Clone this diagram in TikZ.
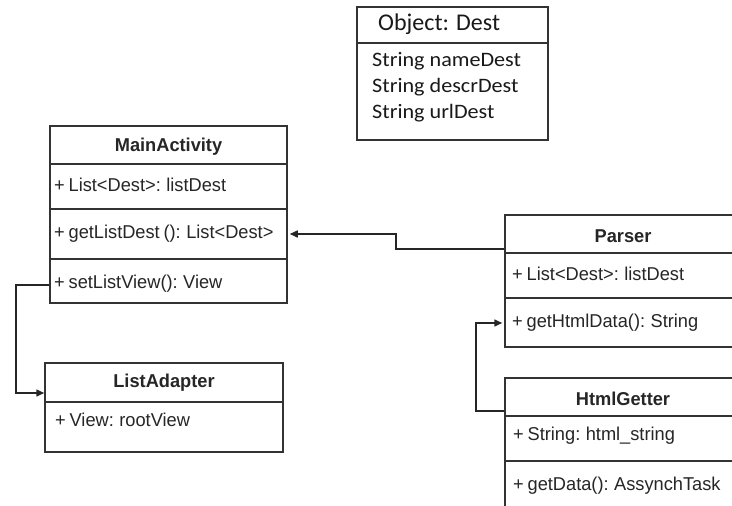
\documentclass[tikz,border=0pt]{standalone}
\usepackage{fontspec}
\newfontfamily\umlfont[FakeStretch=0.98,WordSpace=0.75]{Liberation Sans}
\newfontfamily\calfont[FakeStretch=1.08]{Carlito}
\newfontfamily\caltitle{Carlito}
\usetikzlibrary{arrows.meta}
\begin{document}
\begin{tikzpicture}[x=1pt,y=-1pt,
  box/.style={draw=black!80, line width=1.5pt, minimum width=#1, inner sep=0pt},
  sep/.style={draw=black!80, line width=1.5pt},
  row/.style={anchor=west, inner sep=0pt, font=\umlfont\fontsize{18.6}{21}\selectfont, text=black!85},
  ttl/.style={inner sep=0pt, font=\umlfont\bfseries\fontsize{18.6}{21}\selectfont, text=black!85},
  drow/.style={anchor=west, inner sep=0pt, font=\calfont\fontsize{20.5}{24}\selectfont, text=black!90},
  conn/.style={draw=black!85, line width=1.5pt},
  tip/.style={-{Triangle[length=8pt,width=7pt]}}
]
\useasboundingbox (0,0) rectangle (732,506);
\clip (0,0) rectangle (732,506);
\fill[white] (0,0) rectangle (732,506);

% Object: Dest
\node[box=191pt, minimum height=133pt] (dest) at (452.5,73.5) {};
\draw[sep] (dest.west |- 0,43) -- (dest.east |- 0,43);
\node[anchor=west, inner sep=0pt, font=\caltitle\fontsize{24}{28}\selectfont, text=black!90] (destT) at (378,24) {Object: Dest};
\node[drow] (d1) at (372,61) {String nameDest};
\node[drow] (d2) at (372,87) {String descrDest};
\node[drow] (d3) at (372,113) {String urlDest};

% MainActivity
\node[box=237pt, minimum height=177pt] (main) at (168.5,214.5) {};
\draw[sep] (main.west |- 0,164) -- (main.east |- 0,164);
\draw[sep] (main.west |- 0,209) -- (main.east |- 0,209);
\draw[sep] (main.west |- 0,259) -- (main.east |- 0,259);
\node[ttl] (mainT) at (168.5,147) {MainActivity};
\node[row] (m1) at (54,185) {+ List<Dest>: listDest};
\node[row] (m2) at (54,234) {+ getListDest (): List<Dest>};
\node[row] (m3) at (54,284) {+ setListView(): View};

% ListAdapter
\node[box=238pt, minimum height=89pt] (la) at (164,407.5) {};
\draw[sep] (la.west |- 0,402) -- (la.east |- 0,402);
\node[ttl] (laT) at (164,383) {ListAdapter};
\node[row] (l1) at (55,420) {+ View: rootView};

% Parser
\node[box=240pt, minimum height=132pt] (parser) at (625,281) {};
\draw[sep] (parser.west |- 0,253) -- (parser.east |- 0,253);
\draw[sep] (parser.west |- 0,298) -- (parser.east |- 0,298);
\node[ttl] (pT) at (623,236) {Parser};
\node[row] (p1) at (512,274) {+ List<Dest>: listDest};
\node[row] (p2) at (512,323) {+ getHtmlData(): String};

% HtmlGetter
\node[box=240pt, minimum height=150pt] (hg) at (625,453) {};
\draw[sep] (hg.west |- 0,416) -- (hg.east |- 0,416);
\draw[sep] (hg.west |- 0,461) -- (hg.east |- 0,461);
\node[ttl] (hT) at (623,399) {HtmlGetter};
\node[row] (h1) at (513,436) {+ String: html\_string};
\node[row] (h2) at (513,486) {+ getData(): AssynchTask};

% connectors
\coordinate (c1) at (396,249);
\coordinate (c2) at (476,411);
\coordinate (c3) at (16,285);
\draw[conn, tip] (parser.west |- c1) -- (c1) |- ([xshift=2pt]main.east |- m2);
\draw[conn, tip] (hg.west |- c2) -- (c2) |- ([xshift=-2pt]parser.west |- p2);
\draw[conn, tip] (main.west |- c3) -- (c3) |- (la.west |- 0,393);
\end{tikzpicture}
\end{document}
